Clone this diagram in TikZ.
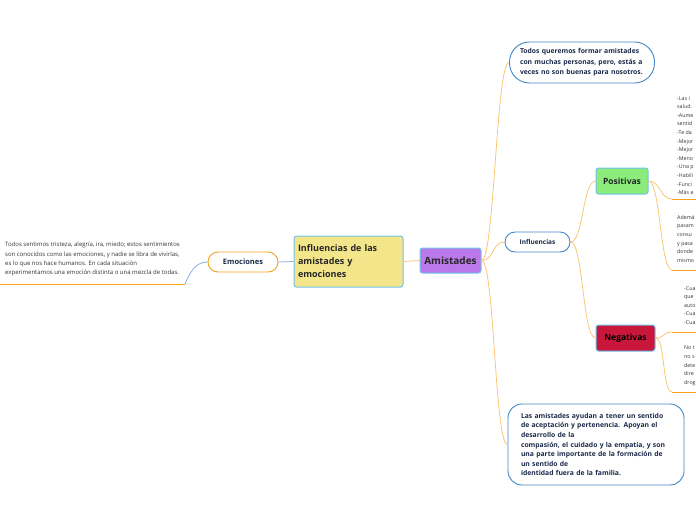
\documentclass[tikz,border=0pt]{standalone}
\usepackage{fontspec}
\setmainfont{Open Sans}
\usetikzlibrary{positioning}
\definecolor{lineor}{HTML}{F8C675}
\definecolor{lineorD}{HTML}{F4A21E}
\definecolor{pillblue}{HTML}{3F87C9}
\definecolor{edgeblue}{HTML}{6FC3EE}
\definecolor{linkblue}{HTML}{8AAEE6}
\definecolor{yellowc}{HTML}{F3E58A}
\definecolor{purplec}{HTML}{BA78EA}
\definecolor{greenc}{HTML}{8BEB7B}
\definecolor{redc}{HTML}{C9173B}
\definecolor{navytext}{HTML}{1C2A4A}
\definecolor{notetext}{HTML}{333333}

\begin{document}
\begin{tikzpicture}[x=1pt, y=-1pt,
    pill/.style={draw=pillblue, line width=0.9pt, fill=white, rounded corners=10pt,
                 inner sep=0pt, text=navytext, font=\bfseries\fontsize{6.8}{10.5}\selectfont},
    topic/.style={draw=edgeblue, line width=1pt, rounded corners=2.5pt, inner sep=0pt,
                  text=black!85},
    link/.style={draw=lineor, line width=0.8pt},
    underl/.style={draw=lineorD, line width=1pt},
    note/.style={anchor=north west, align=left, inner sep=0pt, text=notetext,
                 font=\fontsize{5.3}{8.6}\selectfont}]
  \useasboundingbox (0,0) rectangle (696,520);
  \clip (0,0) rectangle (696,520);

  % central topic and main branches
  \node[topic, fill=yellowc, minimum width=109pt, minimum height=51pt, inner xsep=4pt,
        text width=101pt, align=left, font=\bfseries\fontsize{9}{13}\selectfont]
        (root) at (348.5,261.5) {Influencias de las\\amistades y\\emociones};
  \node[topic, fill=purplec, minimum width=61pt, minimum height=25pt,
        font=\bfseries\fontsize{10}{12}\selectfont] (amis) at (450.5,260.5) {Amistades};
  \node[pill, draw=lineorD, minimum width=70pt, minimum height=20pt,
        font=\bfseries\fontsize{7.5}{9}\selectfont] (emo) at (243,262) {Emociones};

  % left note
  \coordinate (lu) at (185,284);
  \node[note, font=\fontsize{6}{9.2}\selectfont] (emonote) at (5,242)
    {Todos sentimos tristeza, alegría, ira, miedo; estos sentimientos\\
    son conocidos como las emociones, y nadie se libra de vivirlas,\\
    es lo que nos hace humanos. En cada situación\\
    experimentamos una emoción distinta o una mezcla de todas.};

  % amistades children
  \node[pill, minimum width=145pt, minimum height=41pt, rounded corners=20pt,
        text width=124pt, align=left] (quer) at (582,62.5)
        {Todos queremos formar amistades\\con muchas personas, pero, estás a\\veces no son buenas para nosotros.};
  \node[pill, minimum width=65pt, minimum height=20pt,
        font=\bfseries\fontsize{6.5}{8}\selectfont] (infl) at (537.5,242) {Influencias};
  \node[pill, minimum width=176pt, minimum height=81pt, rounded corners=14pt,
        text width=150pt, align=left, font=\bfseries\fontsize{6.8}{9.6}\selectfont]
        (ayud) at (596,444.5)
        {Las amistades ayudan a tener un sentido\\de aceptación y pertenencia. Apoyan el\\desarrollo de la\\
         compasión, el cuidado y la empatía, y son\\una parte importante de la formación de\\un sentido de\\
         identidad fuera de la familia.};

  % influencias children
  \node[topic, fill=greenc, minimum width=52pt, minimum height=26pt,
        font=\bfseries\fontsize{8.5}{10}\selectfont] (posi) at (622,181) {Positivas};
  \node[topic, fill=redc, minimum width=59pt, minimum height=26pt, text=black,
        font=\bfseries\fontsize{8.5}{10}\selectfont] (nega) at (625.5,338) {Negativas};

  % notes at the right edge
  \node[note] (posnote1) at (677,96) {-Las i\\salud.\\-Aume\\sentid\\-Te da\\-Mejor\\-Mejor\\-Meno\\-Una p\\-Habili\\-Funci\\-Más e};
  \node[note] (posnote2) at (677,215) {Ademá\\pasam\\consu\\y pasa\\donde\\mismo};
  \node[note] (negnote1) at (684,286) {-Cua\\que\\auto\\-Cua\\-Cua};
  \node[note] (negnote2) at (684,346) {No t\\no s\\dete\\dire\\drog};
  \coordinate (pu1) at (672,199);
  \coordinate (pu2) at (672,270);
  \coordinate (nu1) at (672,332);
  \coordinate (nu2) at (672,392);

  % connectors
  \draw[linkblue, line width=0.8pt] (root.west) -- (emo.east);
  \draw[linkblue, line width=0.8pt] (emo.west) .. controls +(-12,0) and +(5,-12) .. (lu);
  \draw[underl] (lu) -- (0,284);
  \draw[link] (root.east) -- (amis.west);
  \draw[link] (amis.east) .. controls +(13,0) and +(-13,0) .. (quer.west);
  \draw[link] (amis.east) .. controls +(13,0) and +(-13,0) .. (infl.west);
  \draw[link] (amis.east) .. controls +(13,0) and +(-13,0) .. (ayud.west);
  \draw[link] (infl.east) .. controls +(13,0) and +(-13,0) .. (posi.west);
  \draw[link] (infl.east) .. controls +(13,0) and +(-13,0) .. (nega.west);
  \draw[link] (posi.east) .. controls +(12,0) and +(-12,0) .. (pu1);
  \draw[link] (posi.east) .. controls +(12,0) and +(-12,0) .. (pu2);
  \draw[link] (nega.east) .. controls +(10,0) and +(-10,0) .. (nu1);
  \draw[link] (nega.east) .. controls +(10,0) and +(-10,0) .. (nu2);
  \draw[underl] (pu1) -- (696,199);
  \draw[underl] (pu2) -- (696,270);
  \draw[underl] (nu1) -- (696,332);
  \draw[underl] (nu2) -- (696,392);
\end{tikzpicture}
\end{document}
